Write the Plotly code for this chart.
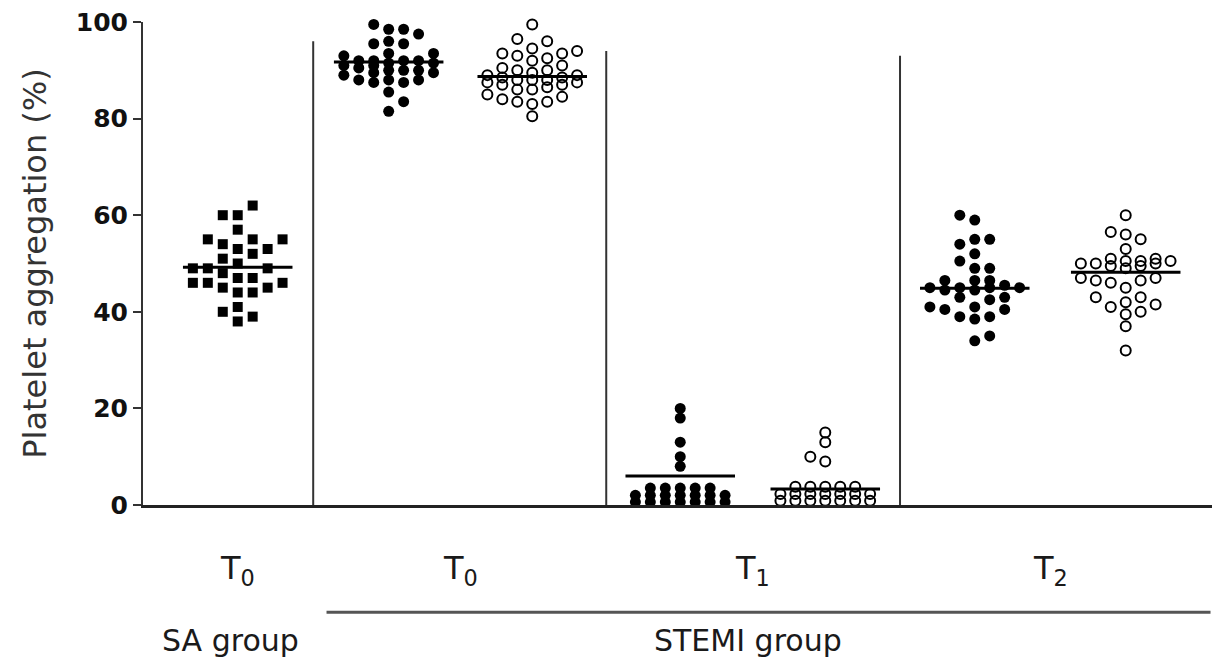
import plotly.graph_objects as go

# ---- data: platelet aggregation (%) per subject ----
sa_t0 = [62, 60, 60, 57, 55, 55, 55, 54, 53, 53, 52, 51, 50, 49, 49, 49, 48,
         47, 47, 46, 46, 46, 45, 45, 44, 44, 41, 40, 39, 38]

stemi_t0_filled = [99.5, 98.5, 98.5, 97.5, 96, 95.5, 95.5, 93.5, 93.5, 93, 92,
                   92, 92, 92, 91.5, 91.5, 91, 91, 90.5, 90, 90, 90, 89.5, 89.5,
                   89, 88, 88, 88, 87.5, 87.5, 85.5, 83.5, 81.5]
stemi_t0_open = [99.5, 96.5, 96, 94.5, 94, 93.5, 93.5, 93, 92.5, 92, 91, 90.5,
                 90, 90, 89.5, 89, 89, 88.5, 88.5, 88, 88, 88, 87.5, 87.5, 87,
                 87, 86.5, 86, 86, 85, 84.5, 84, 83.5, 83.5, 83, 80.5]

stemi_t1_filled = [20, 18, 13, 10, 8, 3.5, 3.5, 3.5, 3.5, 3.5, 2, 2, 2, 2, 2,
                   2, 2, 0.6, 0.6, 0.6, 0.6, 0.6, 0.6, 0.6]
stemi_t1_open = [15, 13, 10, 9, 3.8, 3.8, 3.8, 3.8, 3.8, 2.3, 2.3, 2.3, 2.3,
                 2.3, 2.3, 2.3, 0.9, 0.9, 0.9, 0.9, 0.9, 0.9, 0.9]

stemi_t2_filled = [60, 59, 55, 55, 54, 52, 50.5, 49, 49, 46.5, 46.5, 46.5, 45.5,
                   45, 45, 45, 45, 44.5, 44.5, 43, 43, 42.5, 41, 41, 40.5, 40.5,
                   39, 39, 38.5, 35, 34]
stemi_t2_open = [60, 56.5, 56, 55, 53, 51, 51, 50.5, 50.5, 50.5, 50, 50, 50,
                 49.5, 49.5, 49, 47, 47, 46.5, 46.5, 46, 45, 43, 43, 42, 41.5,
                 41, 40, 39.5, 37, 32]

# group means (horizontal bars)
group_means = [49.2, 91.7, 88.7, 6.0, 3.3, 44.9, 48.2]

time_labels = ["T<sub>0</sub>", "T<sub>0</sub>", "T<sub>1</sub>", "T<sub>2</sub>"]
cohort_labels = ["SA group", "STEMI group"]
y_title = "Platelet aggregation (%)"

# ---- layout / style ----
series = [sa_t0, stemi_t0_filled, stemi_t0_open, stemi_t1_filled,
          stemi_t1_open, stemi_t2_filled, stemi_t2_open]
centers = [0.64, 1.66, 2.63, 3.63, 4.61, 5.62, 6.64]
symbols = ["square", "circle", "circle-open", "circle", "circle-open",
           "circle", "circle-open"]
sizes = [10, 11, 10, 11, 10, 11, 10]
# minimum vertical gap (y units) between points sharing a swarm column
gaps = [2.3, 2.2, 2.2, 1.3, 1.3, 2.3, 2.3]
MAX_COL = 3          # columns allowed on each side of the centre
X_MAX = 7.223
COL_STEP = 0.101     # horizontal spacing of swarm columns (x units)
HALF_BAR = 0.37


def swarm_offsets(values, col_step, min_gap, max_col):
    """Column-based dot-plot layout: each point goes to the column nearest
    the centre where it does not collide with points already placed; when
    every column collides, the least crowded one is used."""
    placed = {}
    offsets = [0.0] * len(values)
    order = sorted(range(len(values)), key=lambda i: values[i])
    flip = False
    for i in order:
        v = values[i]
        cols = [0]
        for k in range(1, max_col + 1):
            cols += [k, -k] if flip else [-k, k]
        chosen = None
        for c in cols:
            if all(abs(v - y) >= min_gap for y in placed.get(c, [])):
                chosen = c
                break
        if chosen is None:
            chosen = max(cols, key=lambda c: min(abs(v - y) for y in placed[c]))
        flip = not flip
        placed.setdefault(chosen, []).append(v)
        offsets[i] = chosen * col_step
    return offsets


fig = go.Figure()

for vals, cx, sym, sz, gap in zip(series, centers, symbols, sizes, gaps):
    offs = swarm_offsets(vals, COL_STEP, gap, MAX_COL)
    marker = dict(symbol=sym, size=sz, color="black")
    if sym.endswith("open"):
        marker["line"] = dict(width=2, color="black")
    fig.add_trace(go.Scatter(
        x=[cx + o for o in offs], y=vals, mode="markers",
        marker=marker, cliponaxis=False, showlegend=False, hoverinfo="y"))

for cx, m in zip(centers, group_means):
    fig.add_trace(go.Scatter(
        x=[cx - HALF_BAR, cx + HALF_BAR], y=[m, m], mode="lines",
        line=dict(color="black", width=3), cliponaxis=False,
        showlegend=False, hoverinfo="skip"))

# vertical separators between time points
sep_tops = [96, 94, 93]
sep_x = [(centers[0] + centers[1]) / 2, (centers[2] + centers[3]) / 2,
         (centers[4] + centers[5]) / 2]
shapes = []
for sx, top in zip(sep_x, sep_tops):
    shapes.append(dict(type="line", xref="x", yref="y", x0=sx, x1=sx,
                       y0=0, y1=top, line=dict(color="#333333", width=2)))

# bracket line under the STEMI time points
shapes.append(dict(type="line", xref="x", yref="paper",
                   x0=sep_x[0] + 0.09, x1=X_MAX - 0.01, y0=-0.222, y1=-0.222,
                   line=dict(color="#555555", width=3)))

label_x = [centers[0], (centers[1] + centers[2]) / 2,
           (centers[3] + centers[4]) / 2, (centers[5] + centers[6]) / 2]
annotations = []
for lx, txt in zip(label_x, time_labels):
    annotations.append(dict(x=lx, y=-0.135, xref="x", yref="paper",
                            text=txt, showarrow=False,
                            font=dict(size=32, color="#1a1a1a"),
                            xanchor="center", yanchor="middle"))
cohort_x = [centers[0] - 0.05, label_x[2] - 0.03]
for lx, txt in zip(cohort_x, cohort_labels):
    annotations.append(dict(x=lx, y=-0.28, xref="x", yref="paper",
                            text=txt, showarrow=False,
                            font=dict(size=30, color="#1a1a1a"),
                            xanchor="center", yanchor="middle"))

fig.update_layout(
    width=1212, height=662,
    margin=dict(l=143, r=0, t=22, b=157),
    paper_bgcolor="white", plot_bgcolor="white",
    font=dict(family="DejaVu Sans", color="black"),
    shapes=shapes, annotations=annotations,
    xaxis=dict(range=[0, X_MAX], showgrid=False, zeroline=False,
               showticklabels=False, ticks="", showline=True,
               linecolor="#222222", linewidth=3, fixedrange=True),
    yaxis=dict(range=[0, 100], tickvals=[0, 20, 40, 60, 80, 100],
               showgrid=False, zeroline=False, showline=True,
               linecolor="#333333", linewidth=2, ticks="outside",
               ticklen=8, tickwidth=2, tickcolor="#333333",
               tickfont=dict(family="DejaVu Sans", size=25, color="#111111",
                             weight="bold"),
               title=dict(text=y_title, standoff=20,
                          font=dict(family="DejaVu Sans", size=32,
                                    color="#333333"))),
)

fig.write_html("out.html")
